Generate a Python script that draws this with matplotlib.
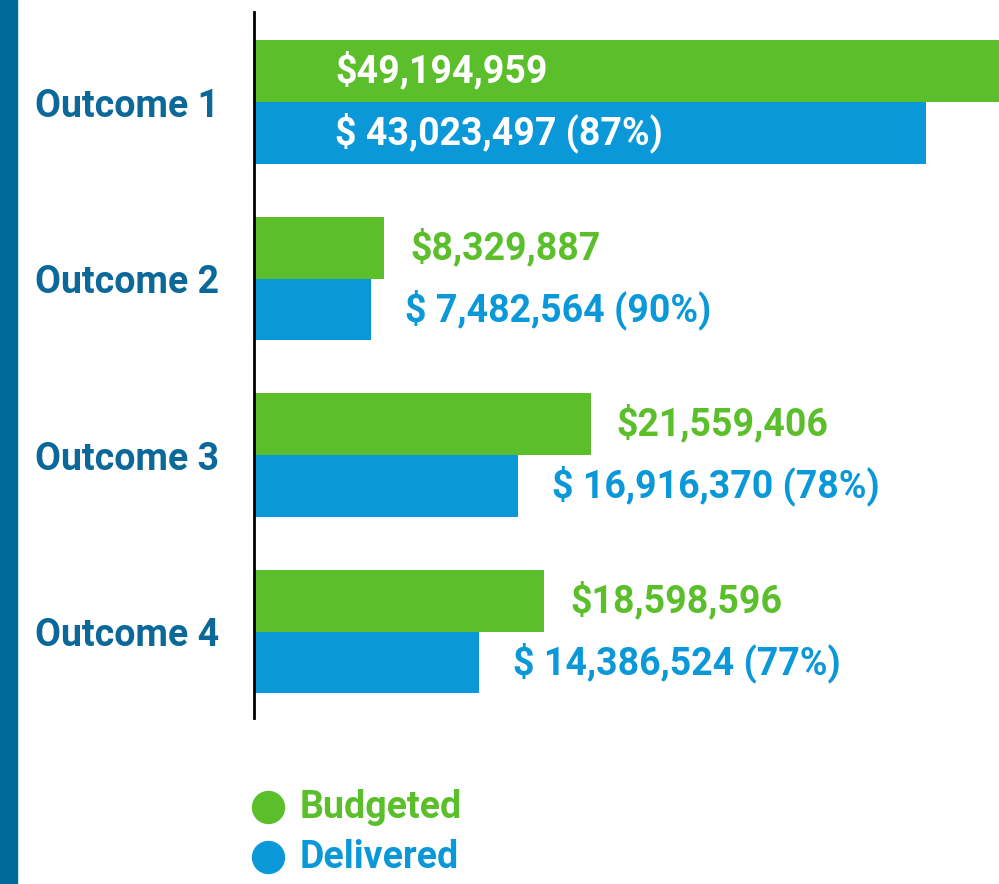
import matplotlib.pyplot as plt
from matplotlib.lines import Line2D

# data
outcomes = ["Outcome 1", "Outcome 2", "Outcome 3", "Outcome 4"]
budgeted = [49194959, 8329887, 21559406, 18598596]
delivered = [43023497, 7482564, 16916370, 14386524]
budget_labels = ["$49,194,959", "$8,329,887", "$21,559,406", "$18,598,596"]
deliver_labels = ["$ 43,023,497 (87%)", "$ 7,482,564 (90%)", "$ 16,916,370 (78%)", "$ 14,386,524 (77%)"]
legend_names = ["Budgeted", "Delivered"]

green = "#5bbf2c"
blue = "#0a98d8"
navy = "#0c6898"
stripe = "#006a9c"

W, H = 999, 884
fig = plt.figure(figsize=(W / 100, H / 100), dpi=100)
fig.patch.set_facecolor("white")

# left stripe
fig.patches.append(plt.Rectangle((0, 0), 17 / W, 1, transform=fig.transFigure,
                                 color=stripe, zorder=0))

ax = fig.add_axes([254 / W, 1 - 718 / H, 1 - 254 / W, (718 - 12) / H])
h = 0.35
ys = list(range(len(outcomes)))
ax.barh([y - h for y in ys], budgeted, height=h, align="edge", color=green)
ax.barh(ys, delivered, height=h, align="edge", color=blue)
ax.set_xlim(0, 47.7e6)
ax.set_ylim(3.49, -0.51)

for s in ["top", "right", "bottom"]:
    ax.spines[s].set_visible(False)
ax.spines["left"].set_linewidth(2)
ax.spines["left"].set_color("black")
ax.set_xticks([])
ax.set_yticks([])

font = dict(family="Roboto", weight="bold", fontsize=27)

for i, y in enumerate(ys):
    if i == 0:
        ax.annotate(budget_labels[i], (0, y - h / 2), xytext=(81, 0), textcoords="offset pixels",
                    va="center", ha="left", color="white", **font)
        ax.annotate(deliver_labels[i], (0, y + h / 2), xytext=(81, 0), textcoords="offset pixels",
                    va="center", ha="left", color="white", **font)
    else:
        ax.annotate(budget_labels[i], (budgeted[i], y - h / 2), xytext=(26, 0), textcoords="offset pixels",
                    va="center", ha="left", color=green, **font)
        ax.annotate(deliver_labels[i], (delivered[i], y + h / 2), xytext=(34, 0), textcoords="offset pixels",
                    va="center", ha="left", color=blue, **font)
    ax.annotate(outcomes[i], (0, y), xycoords=("figure fraction", "data"), xytext=(35, -4),
                textcoords="offset pixels", va="center", ha="left", color=navy,
                annotation_clip=False, **font)

# legend
for k, (name, col) in enumerate(zip(legend_names, [green, blue])):
    yy = 1 - (807 + 50 * k) / H
    fig.add_artist(Line2D([268 / W], [yy], marker="o", markersize=23, color=col,
                          linestyle="none", transform=fig.transFigure))
    fig.text(300 / W, yy, name, color=col, va="center", ha="left", **font)

fig.savefig("out.png", dpi=100)
